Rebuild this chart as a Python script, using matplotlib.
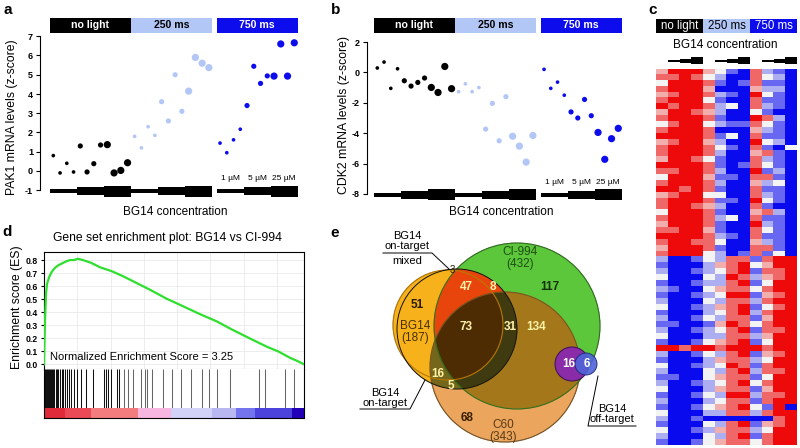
"""Five-panel figure: PAK1/CDK2 expression vs BG14 dose under light,
heatmap of responsive genes, GSEA plot and the target-overlap Venn."""

import matplotlib
matplotlib.use("Agg")
import matplotlib.pyplot as plt
import numpy as np
from matplotlib.colors import LinearSegmentedColormap, to_rgb
from matplotlib.patches import Circle, Rectangle

plt.rcParams["font.family"] = ["Liberation Sans", "DejaVu Sans"]
plt.rcParams["axes.unicode_minus"] = False

# ---------------------------------------------------------------- data
LIGHT_GROUPS = ["no light", "250 ms", "750 ms"]
CONC_LABELS = ["1 µM", "5 µM", "25 µM"]

# 12 samples per light condition: 4 x 1 µM, 4 x 5 µM, 4 x 25 µM
pak1_no_light = [0.8, -0.1, 0.4, -0.05, 1.3, -0.05, 0.38, 1.35, 1.37, -0.1, 0.03, 0.43]
pak1_250ms = [1.8, 1.2, 2.3, 1.85, 3.6, 2.6, 5.0, 3.1, 4.15, 5.9, 5.6, 5.37]
pak1_750ms = [1.45, 0.95, 1.62, 2.17, 3.4, 5.44, 4.55, 4.94, 4.93, 6.6, 4.93, 6.66]

cdk2_no_light = [0.29, 0.68, -1.05, 0.24, -0.55, -0.9, -0.66, -0.37, -0.99, -1.32, 0.39, -1.07]
cdk2_250ms = [-1.27, -0.75, -1.27, -1.0, -3.73, -2.04, -4.5, -1.6, -4.2, -4.85, -5.9, -4.15]
cdk2_750ms = [0.2, -1.05, -0.64, -1.5, -2.6, -3.0, -1.78, -2.85, -3.95, -5.72, -4.36, -3.68]

# heatmap: one string per gene, one char per sample (12 samples)
# R strong up, r up, p slight up, w none, l slight down, b down, B strong down
heat_rows_top = [
    "pRRRpwbBrlbB", "rrRrwlBBrwlB", "wRRRrbBbrbbB", "rRRRpBBBpllB",
    "prRRrlbBRwbB", "rRRRwbBBrbbB", "RrRRrlwBrlbB", "pRRrplBBwbBB",
    "rRRRrbBBRrlB", "wrRRwlbbrwbB", "rRRRrBBBplbB", "RRRRrbwBrbbB",
    "prRRplBBRwlB", "rRRRrwbBrbBw", "rRRRrlBBprbB", "pRRrwbBBrlbB",
    "RRRRrbBbrwbB", "rrRRrlBBRblB", "wRRRpbbBrrbB", "rRRRrlBBplwB",
    "RRrRrbBBrbbB", "prRRwwBBrlbB", "rRRRrbbBRwbB", "rRRrplBBrbBB",
    "wRRRrbBBprlB", "rRRRrlwBrbbB", "pRRRrbBBRlbB", "rrRRpbBBrwbB",
    "RRRRrlbBrbbB", "rRRrrwBBplbB", "pRRRrbBBrrbB", "rRRRwlBbrbwB",
]
heat_rows_bottom = [
    "lBBbwlrrbrRR", "bBBBlprRwpRR", "lBBblwrRbrrR", "wBBBwlRrlprR",
    "bBBbllrRbwRR", "lbBBwprrwrRR", "bBBblwRRbprR", "lBBBwlrrlrRR",
    "wBBblprRbwrR", "bBBBlwrRlrRR", "lBBbwlrrbpRR", "bbBBbpRrwrRR",
    "lBBblwrRbrrR", "wBBBllrrlpRR", "bBBbwprRbwRR", "RRrRRrRRRrRR",
    "lBBbwlrRbprR", "bBBBlprrlwRR", "wBBblwRrbrRR", "lBBBwlrRlrrR",
    "bbBBwprrbwRR", "lBBblwrRwrRR", "wBBBlprrbpRR", "bBBbwlRRlrrR",
    "lBBBlwrrbrRR", "bBBbwprRwbRB", "wBBBllrrlrRR", "lBBbBBBBBBrR",
    "bBBBwlrRbprR", "wBBblprrlwRR", "lBBBwlrRbrRR", "bBBbwprrwrRR",
]
HEAT_LEVEL = {"R": 1.0, "r": 0.6, "p": 0.3, "w": 0.0, "l": -0.3, "b": -0.6, "B": -1.0}

# GSEA running enrichment score along the ranked gene list
es_rank_frac = [0, 0.004, 0.008, 0.012, 0.02, 0.03, 0.042, 0.055, 0.07, 0.085, 0.1,
                0.115, 0.13, 0.15, 0.18, 0.215, 0.26, 0.3, 0.35, 0.41, 0.47, 0.53,
                0.6, 0.664, 0.72, 0.78, 0.857, 0.9, 0.946, 0.975, 1.0]
es_score = [0, 0.35, 0.55, 0.62, 0.67, 0.71, 0.74, 0.76, 0.775, 0.79, 0.80,
            0.80, 0.81, 0.80, 0.78, 0.745, 0.715, 0.68, 0.63, 0.57, 0.505, 0.45,
            0.385, 0.33, 0.27, 0.21, 0.135, 0.10, 0.05, 0.025, 0.0]
gene_set_hits = [0.004, 0.008, 0.012, 0.015, 0.019, 0.023, 0.027, 0.032, 0.036, 0.040,
                 0.045, 0.050, 0.055, 0.062, 0.068, 0.074, 0.081, 0.087, 0.096, 0.105,
                 0.115, 0.128, 0.142, 0.162, 0.187, 0.229, 0.238, 0.246, 0.258, 0.279,
                 0.290, 0.308, 0.322, 0.344, 0.372, 0.387, 0.395, 0.414, 0.459, 0.491,
                 0.527, 0.564, 0.606, 0.635, 0.664, 0.715, 0.828, 0.850, 0.927, 0.962]
NES = 3.25
# ranked-list metric colour bands (end of band as rank fraction)
rank_band_end = [0.08, 0.18, 0.36, 0.49, 0.645, 0.74, 0.81, 0.953, 1.0]
rank_band_color = ["#e02a3a", "#ea4a55", "#f27c7e", "#f6b6e0", "#d2d2f8",
                   "#b9b7f2", "#7474ee", "#4c42dc", "#2200b8"]

# Venn region counts
venn_counts = {"bg14_only": 51, "bg14_ci": 47, "ot_ci": 8, "mixed": 3, "all": 73,
               "ot_ci_c60": 31, "ci_c60": 134, "ci_only": 117, "bg14_c60": 16,
               "ot_c60": 5, "c60_only": 68, "off_purple": 16, "off_blue": 6}
venn_totals = {"BG14": 187, "CI-994": 432, "C60": 343}

# ---------------------------------------------------------------- layout helpers
W, H = 800, 448
fig = plt.figure(figsize=(W / 100, H / 100), dpi=100)
fig.patch.set_facecolor("white")


def px_rect(x0, y0, x1, y1):
    return [x0 / W, 1 - y1 / H, (x1 - x0) / W, (y1 - y0) / H]


def fig_text(x, y, s, **kw):
    kw.setdefault("ha", "center")
    kw.setdefault("va", "center")
    fig.text(x / W, 1 - y / H, s, **kw)


GROUP_COLORS = ["#000000", "#b3c7f7", "#0c0cec"]
GROUP_TEXT = ["white", "black", "white"]
STEP = 6.75
GROUP_OFFSETS = [0.0, 12.05, 24.7]
DOT_SIZES = [7, 14, 27]
BAR_PX = [4, 8, 11]


def expression_panel(rect, first_px, zero_px, unit_px, series, yticks,
                     bar_val, conc_px):
    x0, y0, x1, y1 = rect
    ax = fig.add_axes(px_rect(*rect))
    ax.set_xlim((x0 - first_px) / STEP, (x1 - first_px) / STEP)

    def val(py):
        return (zero_px - py) / unit_px

    ax.set_ylim(val(y1), val(y0))
    for g, vals in enumerate(series):
        off = GROUP_OFFSETS[g]
        xs = off + np.arange(len(vals))
        sizes = [DOT_SIZES[i // 4] for i in range(len(vals))]
        ax.scatter(xs, vals, s=sizes, color=GROUP_COLORS[g], linewidths=0, zorder=3)
        ax.add_patch(Rectangle((off - 0.5, val(33)), 12, val(18) - val(33),
                               color=GROUP_COLORS[g], lw=0, clip_on=False))
        ax.text(off + 5.5, val(25.5), LIGHT_GROUPS[g], color=GROUP_TEXT[g],
                ha="center", va="center", fontsize=7.6, fontweight="bold")
        for c in range(3):
            h = BAR_PX[c] / unit_px
            ax.add_patch(Rectangle((off + 4 * c - 0.5, bar_val - h / 2), 4, h,
                                   color="black", lw=0, clip_on=False))
    for c, lab in enumerate(CONC_LABELS):
        ax.text(GROUP_OFFSETS[2] + 4 * c + 1.5, val(conc_px), lab,
                ha="center", va="center", fontsize=6)
    for s in ("top", "right", "bottom"):
        ax.spines[s].set_visible(False)
    ax.spines["left"].set_bounds(yticks[0], yticks[-1])
    ax.set_xticks([])
    ax.set_yticks(yticks)
    ax.set_yticklabels([str(t) for t in yticks], fontsize=6.5, fontweight="bold")
    ax.tick_params(axis="y", length=3, width=0.8, pad=2)
    return ax


# ---------------------------------------------------------------- a
expression_panel((40, 14, 302, 200), 53.3, 171, 19.25,
                 [pak1_no_light, pak1_250ms, pak1_750ms],
                 list(range(-1, 8)), -1.05, 178)
fig_text(12, 117, "PAK1 mRNA levels (z-score)", rotation=90, fontsize=8.8)
fig_text(175, 212, "BG14 concentration", fontsize=8.5)

# ---------------------------------------------------------------- b
expression_panel((367, 14, 628, 200), 377.3, 72.4, 15.2,
                 [cdk2_no_light, cdk2_250ms, cdk2_750ms],
                 list(range(-8, 3, 2)), -8.05, 183)
fig_text(344, 115, "CDK2 mRNA levels (z-score)", rotation=90, fontsize=8.8)
fig_text(501, 212, "BG14 concentration", fontsize=8.5)

# ---------------------------------------------------------------- c
heat = np.array([[HEAT_LEVEL[ch] for ch in row]
                 for row in heat_rows_top + heat_rows_bottom])
heat_cmap = LinearSegmentedColormap.from_list(
    "heat", ["#0a0aef", "#f4f4f4", "#ee0a0a"])
n_rows = heat.shape[0]
ax_c = fig.add_axes(px_rect(656, 69, 797, 445))
ax_c.imshow(heat, cmap=heat_cmap, vmin=-1, vmax=1, aspect="auto",
            interpolation="nearest", extent=(0, 12, n_rows, 0))
ax_c.set_xlim(0, 12)
ax_c.set_ylim(n_rows, 0)
ax_c.axis("off")
row_px = 376 / n_rows
for g in range(3):
    ax_c.add_patch(Rectangle((4 * g, -50 / row_px), 4, 14 / row_px,
                             color=GROUP_COLORS[g], lw=0, clip_on=False))
    ax_c.text(4 * g + 2, -43 / row_px, LIGHT_GROUPS[g], color=GROUP_TEXT[g],
              ha="center", va="center", fontsize=8.3)
    for c, hpx in enumerate([2, 4.5, 7]):
        ax_c.add_patch(Rectangle((4 * g + 1 + c, -8 / row_px - hpx / 2 / row_px),
                                 1, hpx / row_px, color="black", lw=0, clip_on=False))
fig_text(725, 45, "BG14 concentration", fontsize=8.5)

# ---------------------------------------------------------------- d
ax_es = fig.add_axes(px_rect(44, 252, 304, 369))
ax_es.plot(es_rank_frac, es_score, color="#2ee02e", lw=1.6, zorder=3)
ax_es.set_xlim(0, 1)
ax_es.set_ylim(-0.036, 0.862)
yt = np.round(np.arange(0, 0.81, 0.1), 1)
ax_es.set_yticks(yt)
ax_es.set_yticklabels([f"{v:.1f}" for v in yt], fontsize=6.2, fontweight="bold")
ax_es.set_xticks(np.arange(0.128, 1, 0.128))
ax_es.tick_params(axis="x", length=0, labelbottom=False)
ax_es.tick_params(axis="y", length=2.5, width=0.8, pad=2)
ax_es.grid(color="#e6e6e6", lw=0.5)
ax_es.set_axisbelow(True)
ax_es.spines["bottom"].set_color("#aaaaaa")
ax_es.text(0.023, 0.056, f"Normalized Enrichment Score = {NES:.2f}",
           fontsize=8, va="center", ha="left")
fig_text(167, 238, "Gene set enrichment plot: BG14 vs CI-994", fontsize=8.7)
fig_text(17, 307, "Enrichment score (ES)", rotation=90, fontsize=8.8)

ax_hits = fig.add_axes(px_rect(44, 369, 304, 408))
hit_colors = ["#111111" if h < 0.3 else "#666666" for h in gene_set_hits]
ax_hits.vlines(gene_set_hits, 0, 1, colors=hit_colors, lw=0.75)
ax_hits.set_xlim(0, 1)
ax_hits.set_ylim(0, 1)
ax_hits.set_xticks([])
ax_hits.set_yticks([])
ax_hits.spines["top"].set_visible(False)
ax_hits.spines["bottom"].set_visible(False)

ax_rank = fig.add_axes(px_rect(44, 408, 304, 418))
start = 0.0
for end, col in zip(rank_band_end, rank_band_color):
    ax_rank.axvspan(start, end, color=col, lw=0)
    start = end
ax_rank.set_xlim(0, 1)
ax_rank.set_xticks([])
ax_rank.set_yticks([])
ax_rank.spines["top"].set_visible(False)

# ---------------------------------------------------------------- e
ax_v = fig.add_axes(px_rect(300, 225, 650, 448))
ax_v.set_xlim(300, 650)
ax_v.set_ylim(448, 225)
ax_v.axis("off")

BG14_C = (448, 325, 55)
ONT_C = (457, 329, 60)
CI_C = (517, 326, 83)
C60_C = (505, 367, 75)

gx, gy = np.meshgrid(np.arange(300, 650, 0.5) + 0.25, np.arange(225, 448, 0.5) + 0.25)


def inside(c):
    return (gx - c[0]) ** 2 + (gy - c[1]) ** 2 <= c[2] ** 2


bg, ot, ci, c60 = inside(BG14_C), inside(ONT_C), inside(CI_C), inside(C60_C)
bg_any = bg | ot
img = np.zeros(gx.shape + (4,))
for mask, col in [(c60, "#eba55c"), (ci, "#5cc83a"), (bg_any, "#f8b31c"),
                  (ci & c60, "#a5771b"), (ci & bg_any, "#e8450d"),
                  (c60 & bg_any, "#74661a"), (c60 & ci & ot, "#3f3a10"),
                  (c60 & ci & bg, "#4d2c05")]:
    img[mask, :3] = to_rgb(col)
    img[mask, 3] = 1.0
ax_v.imshow(img, extent=(300, 650, 448, 225), interpolation="bilinear", zorder=1)

for c, ec, lw in [(C60_C, "#7a5420", 0.8), (CI_C, "#2f6f1c", 0.8),
                  (BG14_C, "#b77800", 0.8), (ONT_C, "#111111", 0.7)]:
    ax_v.add_patch(Circle(c[:2], c[2], fill=False, ec=ec, lw=lw, zorder=2))
ax_v.add_patch(Circle((572, 364), 17, fc="#8a2ca8", ec="#3a1050", lw=0.7, zorder=3))
ax_v.add_patch(Circle((586, 364), 11, fc="#4f63d8", ec="#1a2a70", lw=0.7,
                      alpha=0.9, zorder=4))

pale = "#fff3a8"
num = dict(fontsize=8.5, fontweight="bold", ha="center", va="center", zorder=5)
ax_v.text(417, 305, venn_counts["bg14_only"], color="#2a1a00", **num)
ax_v.text(466, 287, venn_counts["bg14_ci"], color=pale, **num)
ax_v.text(493, 287, venn_counts["ot_ci"], color=pale, **num)
ax_v.text(466, 327, venn_counts["all"], color=pale, **num)
ax_v.text(510, 327, venn_counts["ot_ci_c60"], color=pale, **num)
ax_v.text(536, 327, venn_counts["ci_c60"], color=pale, **num)
ax_v.text(550, 287, venn_counts["ci_only"], color="#15300a", **num)
ax_v.text(438, 374, venn_counts["bg14_c60"], color=pale, **num)
ax_v.text(451, 386, venn_counts["ot_c60"], color=pale, **num)
ax_v.text(467, 418, venn_counts["c60_only"], color="#3a2000", **num)
ax_v.text(569, 364, venn_counts["off_purple"], color="white", **num)
ax_v.text(587, 364, venn_counts["off_blue"], color="white", **num)
ax_v.text(452, 270, venn_counts["mixed"], color="#2a1a00", fontsize=7,
          ha="center", va="center", zorder=5)

name = dict(fontsize=8.5, ha="center", va="center", linespacing=0.95, zorder=5)
ax_v.text(415, 332, f"BG14\n({venn_totals['BG14']})", color="#4a3000", **name)
ax_v.text(520, 258, f"CI-994\n({venn_totals['CI-994']})", color="#1e4d14", **name)
ax_v.text(503, 431, f"C60\n({venn_totals['C60']})", color="#5a3a14", **name)

lab = dict(fontsize=8, ha="center", va="center", linespacing=0.95, zorder=5)
ax_v.text(407, 241, "BG14\non-target", **lab)
ax_v.text(407, 261, "mixed", **lab)
ax_v.plot([383, 432, 449], [253, 253, 269], color="black", lw=0.7, zorder=5)
ax_v.text(385, 398, "BG14\non-target", **lab)
ax_v.plot([360, 410, 425], [409, 409, 380], color="black", lw=0.7, zorder=5)
ax_v.text(612, 414, "BG14\noff-target", **lab)
ax_v.plot([598, 588, 636], [376, 426, 426], color="black", lw=0.7, zorder=5)

# ---------------------------------------------------------------- panel letters
for letter, x, y in [("a", 8, 10), ("b", 336, 10), ("c", 653, 10),
                     ("d", 7, 232), ("e", 335, 233)]:
    fig_text(x, y, letter, fontsize=11, fontweight="bold")

fig.savefig("out.png", dpi=100)
